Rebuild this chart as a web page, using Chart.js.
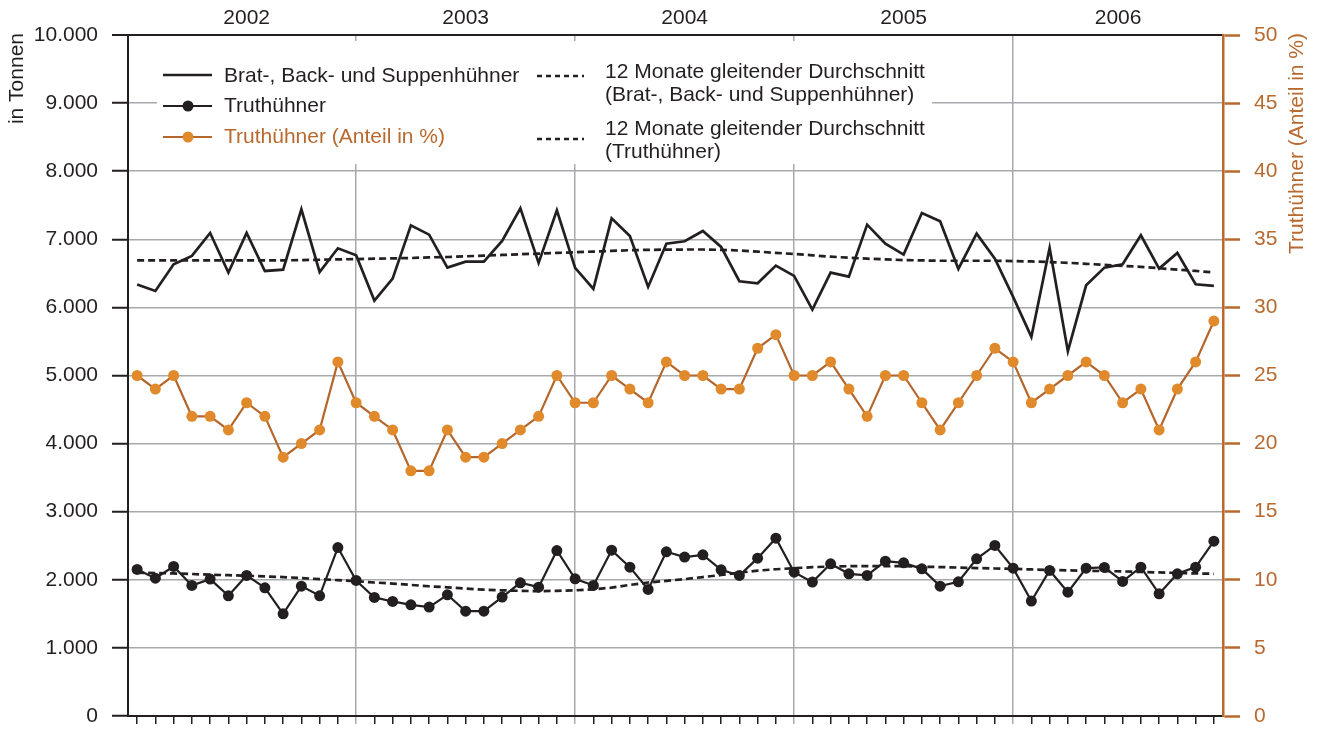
<!DOCTYPE html>
<html lang="de">
<head>
<meta charset="utf-8">
<title>Geflügelschlachtungen 2002–2006</title>
<script src="https://cdn.jsdelivr.net/npm/chart.js@4/dist/chart.umd.min.js"></script>
<style>
  html, body { margin: 0; padding: 0; background: #ffffff; }
  #wrap { width: 1322px; height: 729px; }
</style>
</head>
<body>
<div id="wrap"><canvas id="chart" width="1322" height="729"></canvas></div>
<script>
// Jahre und Monatskategorien
const years = ['2002', '2003', '2004', '2005', '2006'];
const months = [];
years.forEach(y => { for (let m = 1; m <= 12; m++) months.push(String(m).padStart(2, '0') + '/' + y); });

// Brat-, Back- und Suppenhühner (Tonnen)
const brat = [
  6335, 6242, 6633, 6756, 7093, 6511, 7093, 6535, 6555, 7440, 6520, 6868,
  6765, 6100, 6423, 7205, 7068, 6584, 6672, 6672, 6976, 7455, 6653, 7425,
  6580, 6271, 7308, 7049, 6301, 6936, 6971, 7122, 6888, 6384, 6355, 6614,
  6462, 5968, 6511, 6452, 7215, 6936, 6775, 7386, 7264, 6565, 7083, 6716,
  6154, 5567, 6873, 5357, 6325, 6584, 6633, 7059, 6570, 6800, 6340, 6315
];

// Truthühner (Tonnen)
const truthuehner = [
  2152, 2024, 2196, 1917, 2010, 1765, 2064, 1883, 1500, 1907, 1765, 2474,
  1990, 1741, 1682, 1633, 1599, 1780, 1540, 1540, 1746, 1956, 1892, 2430,
  2015, 1917, 2435, 2186, 1858, 2411, 2333, 2367, 2147, 2064, 2318, 2611,
  2112, 1966, 2235, 2088, 2064, 2274, 2249, 2161, 1907, 1971, 2308, 2504,
  2171, 1687, 2137, 1819, 2171, 2181, 1976, 2186, 1795, 2088, 2186, 2567
];

// Truthühner, Anteil in %
const anteil = [
  25, 24, 25, 22, 22, 21, 23, 22, 19, 20, 21, 26,
  23, 22, 21, 18, 18, 21, 19, 19, 20, 21, 22, 25,
  23, 23, 25, 24, 23, 26, 25, 25, 24, 24, 27, 28,
  25, 25, 26, 24, 22, 25, 25, 23, 21, 23, 25, 27,
  26, 23, 24, 25, 26, 25, 23, 24, 21, 24, 26, 29
];

// 12 Monate gleitender Durchschnitt (Brat-, Back- und Suppenhühner)
const bratAvg = [
  6690, 6690, 6690, 6690, 6690, 6690, 6690, 6690, 6690, 6695, 6700, 6705,
  6710, 6715, 6720, 6725, 6735, 6740, 6750, 6760, 6770, 6780, 6790, 6800,
  6810, 6820, 6830, 6840, 6845, 6848, 6850, 6850, 6845, 6835, 6820, 6800,
  6785, 6765, 6745, 6730, 6715, 6705, 6695, 6690, 6685, 6685, 6685, 6685,
  6680, 6675, 6665, 6655, 6640, 6625, 6610, 6595, 6575, 6555, 6535, 6515
];

// 12 Monate gleitender Durchschnitt (Truthühner)
const truthAvg = [
  2105, 2100, 2093, 2085, 2075, 2068, 2060, 2050, 2040, 2025, 2010, 1995,
  1980, 1960, 1945, 1925, 1905, 1890, 1870, 1855, 1845, 1838, 1832, 1838,
  1845, 1860, 1885, 1925, 1960, 1985, 2010, 2040, 2070, 2105, 2135, 2155,
  2170, 2185, 2195, 2200, 2200, 2200, 2200, 2193, 2187, 2180, 2172, 2166,
  2160, 2152, 2145, 2138, 2133, 2128, 2123, 2115, 2108, 2100, 2094, 2088
];

const leftTicks = [0, 1000, 2000, 3000, 4000, 5000, 6000, 7000, 8000, 9000, 10000];
const rightTicks = [0, 5, 10, 15, 20, 25, 30, 35, 40, 45, 50];

const INK = '#231f20';
const GRID = '#a7a9ac';
const ORANGE_AXIS = '#b8692f';
const ORANGE_LINE = '#b4662c';
const ORANGE_DOT = '#e08a2c';
const FONT = '"Liberation Sans", Arial, Helvetica, sans-serif';
const DASH = [7, 4];

const fmtDE = v => String(v).replace(/\B(?=(\d{3})+(?!\d))/g, '.');

// feste Achsenmaße ohne zusätzliche Randabstände
const fixWidth = w => s => { s.width = w; s.paddingTop = 0; s.paddingBottom = 0; };
const fixHeight = h => s => { s.height = h; s.paddingLeft = 0; s.paddingRight = 0; };

// Rahmen, Jahresbeschriftung, Achsentitel und Legende
const decorations = {
  id: 'decorations',
  beforeDatasetsDraw(chart) {
    const ctx = chart.ctx;
    ctx.save();
    ctx.fillStyle = '#ffffff';
    ctx.fillRect(157, 41, 775, 123);
    ctx.restore();
  },
  afterDraw(chart) {
    const ctx = chart.ctx;
    const xs = chart.scales.x;
    const area = chart.chartArea;
    ctx.save();
    ctx.font = '21px ' + FONT;
    ctx.textBaseline = 'middle';

    // Jahre oben
    ctx.fillStyle = INK;
    ctx.textAlign = 'center';
    years.forEach((y, k) => {
      const l = k === 0 ? xs.getPixelForValue(0) : xs.getPixelForValue(12 * k);
      const r = k === years.length - 1 ? area.right : xs.getPixelForValue(12 * k + 12);
      ctx.fillText(y, (l + r) / 2, 18);
    });

    // Achsentitel
    ctx.save();
    ctx.translate(17, 33);
    ctx.rotate(-Math.PI / 2);
    ctx.textAlign = 'right';
    ctx.fillStyle = INK;
    ctx.fillText('in Tonnen', 0, 0);
    ctx.restore();

    ctx.save();
    ctx.translate(1297, 33);
    ctx.rotate(-Math.PI / 2);
    ctx.textAlign = 'right';
    ctx.fillStyle = ORANGE_AXIS;
    ctx.fillText('Truthühner (Anteil in %)', 0, 0);
    ctx.restore();

    // Legende
    const seg = (x1, x2, y, color, w, dash) => {
      ctx.save();
      ctx.strokeStyle = color;
      ctx.lineWidth = w;
      ctx.setLineDash(dash || []);
      ctx.beginPath();
      ctx.moveTo(x1, y);
      ctx.lineTo(x2, y);
      ctx.stroke();
      ctx.restore();
    };
    const dot = (x, y, color) => {
      ctx.save();
      ctx.fillStyle = color;
      ctx.beginPath();
      ctx.arc(x, y, 5.5, 0, Math.PI * 2);
      ctx.fill();
      ctx.restore();
    };
    ctx.textAlign = 'left';

    seg(163, 212, 75, INK, 2.7);
    ctx.fillStyle = INK;
    ctx.fillText('Brat-, Back- und Suppenhühner', 224, 76);

    seg(163, 212, 106, INK, 2.2);
    dot(188, 106, INK);
    ctx.fillStyle = INK;
    ctx.fillText('Truthühner', 224, 106);

    seg(163, 212, 137, ORANGE_LINE, 2.2);
    dot(188, 137, ORANGE_DOT);
    ctx.fillStyle = ORANGE_AXIS;
    ctx.fillText('Truthühner (Anteil in %)', 224, 137);

    seg(537, 584, 76, INK, 2.7, [5, 4]);
    ctx.fillStyle = INK;
    ctx.fillText('12 Monate gleitender Durchschnitt', 605, 72);
    ctx.fillText('(Brat-, Back- und Suppenhühner)', 605, 95);

    seg(537, 584, 139, INK, 2.7, [5, 4]);
    ctx.fillText('12 Monate gleitender Durchschnitt', 605, 129);
    ctx.fillText('(Truthühner)', 605, 152);

    ctx.restore();
  }
};

new Chart(document.getElementById('chart'), {
  type: 'line',
  data: {
    labels: months,
    datasets: [
      {
        label: '12 Monate gleitender Durchschnitt (Brat-, Back- und Suppenhühner)',
        data: bratAvg,
        yAxisID: 'y',
        borderColor: INK,
        borderWidth: 2.7,
        borderDash: DASH,
        pointRadius: 0,
        tension: 0
      },
      {
        label: '12 Monate gleitender Durchschnitt (Truthühner)',
        data: truthAvg,
        yAxisID: 'y',
        borderColor: INK,
        borderWidth: 2.7,
        borderDash: DASH,
        pointRadius: 0,
        tension: 0
      },
      {
        label: 'Brat-, Back- und Suppenhühner',
        data: brat,
        yAxisID: 'y',
        borderColor: INK,
        borderWidth: 2.7,
        pointRadius: 0,
        tension: 0
      },
      {
        label: 'Truthühner',
        data: truthuehner,
        yAxisID: 'y',
        borderColor: INK,
        borderWidth: 2.2,
        pointRadius: 5.5,
        pointBackgroundColor: INK,
        pointBorderColor: INK,
        pointBorderWidth: 0,
        tension: 0
      },
      {
        label: 'Truthühner (Anteil in %)',
        data: anteil,
        yAxisID: 'y1',
        borderColor: ORANGE_LINE,
        borderWidth: 2.2,
        pointRadius: 5.5,
        pointBackgroundColor: ORANGE_DOT,
        pointBorderColor: ORANGE_DOT,
        pointBorderWidth: 0,
        tension: 0
      }
    ]
  },
  options: {
    responsive: false,
    animation: false,
    devicePixelRatio: 1,
    layout: { padding: { top: 35, left: 0, right: 0, bottom: 0 } },
    plugins: {
      legend: { display: false },
      tooltip: { enabled: false },
      title: { display: false }
    },
    scales: {
      x: {
        type: 'category',
        position: 'bottom',
        offset: true,
        afterFit: fixHeight(13),
        border: { display: true, color: INK, width: 2 },
        grid: {
          offset: false,
          drawOnChartArea: true,
          drawTicks: true,
          tickLength: 8,
          lineWidth: 1.5,
          tickWidth: 1.5,
          color: c => (c.index > 0 && c.index % 12 === 0) ? GRID : 'rgba(0,0,0,0)',
          tickColor: c => (c.index > 0 && c.index % 12 === 0) ? GRID : INK
        },
        ticks: { display: false, autoSkip: false }
      },
      y: {
        type: 'linear',
        position: 'left',
        min: 0,
        max: 10000,
        afterFit: fixWidth(128),
        afterBuildTicks: s => { s.ticks = leftTicks.map(v => ({ value: v })); },
        border: { display: true, color: INK, width: 2 },
        grid: {
          drawOnChartArea: true,
          drawTicks: true,
          tickLength: 16,
          lineWidth: c => (c.tick && c.tick.value === 10000) ? 2 : 1.5,
          tickWidth: 2,
          color: c => (c.tick && c.tick.value === 10000) ? INK : GRID,
          tickColor: INK
        },
        ticks: {
          color: INK,
          font: { family: FONT, size: 21 },
          padding: 14,
          callback: v => fmtDE(v)
        }
      },
      y1: {
        type: 'linear',
        position: 'right',
        min: 0,
        max: 50,
        afterFit: fixWidth(99),
        afterBuildTicks: s => { s.ticks = rightTicks.map(v => ({ value: v })); },
        border: { display: true, color: ORANGE_AXIS, width: 2.5 },
        grid: {
          drawOnChartArea: false,
          drawTicks: true,
          tickLength: 17,
          tickWidth: 2.5,
          tickColor: ORANGE_AXIS
        },
        ticks: {
          color: ORANGE_AXIS,
          font: { family: FONT, size: 21 },
          padding: 14,
          callback: v => String(v)
        }
      }
    }
  },
  plugins: [decorations]
});
</script>
</body>
</html>
